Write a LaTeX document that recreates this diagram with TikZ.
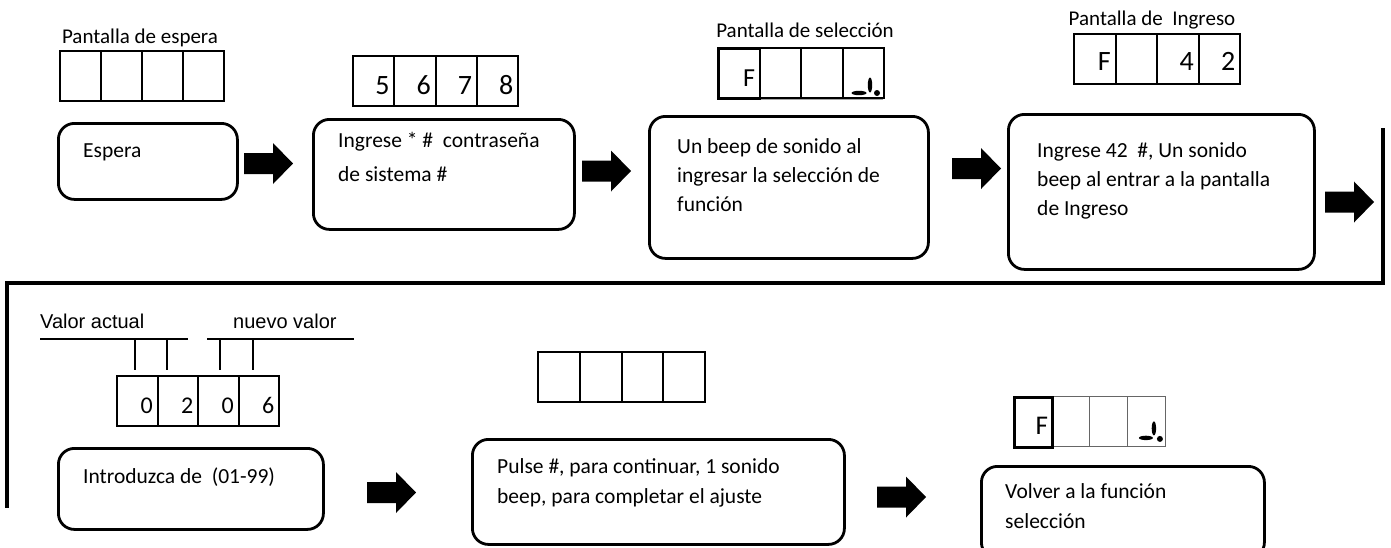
\documentclass[tikz,border=0pt]{standalone}
\usepackage{fontspec}
\setmainfont{Carlito}
\newfontfamily\arialf{Liberation Sans}
\newcommand\lcd[7]{% name, x, y, width, text, font size, raise
  \node[cellbox, minimum width=#4pt] (#1) at (#2,#3) {};
  \node[digit, font=\fontsize{#6}{#6}\selectfont] (#1-t) at ([xshift=-5.5pt,yshift=#7pt]#1.south east) {#5};}
\newcommand\blockarr[3]{% name, left x, centre y
  \coordinate (#1) at (#2,#3);
  \fill (#1) ++(0,-10.5) -- ++(29,0) -- ++(0,-10) -- ++(20,20.5) -- ++(-20,20.5) -- ++(0,-10) -- ++(-29,0) -- cycle;}
\begin{document}
\begin{tikzpicture}[x=1pt,y=-1pt,
  flowbox/.style={draw, line width=2.8pt, rounded corners=16pt, anchor=north west, inner sep=0pt},
  cellbox/.style={draw, line width=2pt, anchor=north west, inner sep=0pt, minimum height=50pt},
  digit/.style={anchor=base east, inner sep=0pt},
  boxtext/.style={anchor=base west, inner sep=0pt, align=left, font=\fontsize{21.5}{29}\selectfont},
  scrlabel/.style={anchor=base, inner sep=0pt, font=\fontsize{21}{25}\selectfont},
  arlabel/.style={anchor=base west, inner sep=0pt, font=\arialf\fontsize{20}{23}\selectfont},
  tick/.style={line width=1.4pt},
  connector/.style={line width=4pt, line join=miter}
]
\useasboundingbox (0,0) rectangle (1391,547);

% ---------- row 1 ----------
% screen 1
\node[scrlabel] (l1) at (140,43) {Pantalla de espera};
\lcd{s1a}{59}{50}{41}{}{27}{13}
\lcd{s1b}{100}{50}{41}{}{27}{13}
\lcd{s1c}{141}{50}{41}{}{27}{13}
\lcd{s1d}{182}{50}{41}{}{27}{13}
\node[flowbox, minimum width=179pt, minimum height=76pt] (b1) at (57,122) {};
\node[boxtext] (t1) at (83,157) {Espera};
\blockarr{a1}{244}{163.5}

% screen 2
\lcd{s2a}{352}{55}{41.25}{5}{28}{12.5}
\lcd{s2b}{393.25}{55}{41.25}{6}{28}{12.5}
\lcd{s2c}{434.5}{55}{41.25}{7}{28}{12.5}
\lcd{s2d}{475.75}{55}{41.25}{8}{28}{12.5}
\node[flowbox, minimum width=261pt, minimum height=110pt] (b2) at (312,118) {};
\node[boxtext, font=\fontsize{21.5}{34}\selectfont] (t2) at (338,181) {Ingrese * \#\ \ contraseña\\de sistema \#};
\blockarr{a2}{582}{171}

% screen 3
\node[scrlabel] (l3) at (805,37) {Pantalla de selección};
\draw[gray!70, line width=1pt] (717,99.5) -- (883,99.5);
\lcd{s3b}{758.5}{47}{41.5}{}{24}{13.5}
\lcd{s3c}{800}{47}{41.5}{}{24}{13.5}
\lcd{s3d}{841.5}{47}{41.5}{}{24}{13.5}
\node[cellbox, line width=2.8pt, minimum width=41.5pt] (s3a) at (717,47) {};
\node[digit, font=\fontsize{26}{26}\selectfont] (s3a-t) at ([xshift=-6pt,yshift=13.5pt]s3a.south east) {F};
\begin{scope}[shift={(s3d.south east)}]
  \fill (-26,-6) ellipse [x radius=7.5pt, y radius=2.2pt];
  \fill (-15,-14) ellipse [x radius=2.2pt, y radius=7.5pt];
  \fill (-8,-6) circle [radius=3pt];
\end{scope}
\node[flowbox, minimum width=279pt, minimum height=142pt] (b3) at (648,115) {};
\node[boxtext] (t3) at (677,211) {Un beep de sonido al\\ingresar la selección de\\función};
\blockarr{a3}{952}{168.5}

% screen 4
\node[scrlabel] (l4) at (1152,25) {Pantalla de\ \ Ingreso};
\lcd{s4a}{1073}{33}{41.5}{F}{28}{15}
\lcd{s4b}{1114.5}{33}{41.5}{}{28}{15}
\lcd{s4c}{1156}{33}{41.5}{4}{28}{15}
\lcd{s4d}{1197.5}{33}{41.5}{2}{28}{15}
\node[flowbox, minimum width=306pt, minimum height=155pt] (b4) at (1007,113) {};
\node[boxtext] (t4) at (1037,215) {Ingrese 42\ \ \#, Un sonido\\beep al entrar a la pantalla\\de Ingreso};
\blockarr{a4}{1325}{202}

% connector between rows
\coordinate (c1) at (1383,128);
\coordinate (c2) at (1383,283);
\coordinate (c3) at (7,283);
\coordinate (c4) at (7,508);
\draw[connector] (c1) -- (c2) -- (c3) -- (c4);

% ---------- row 2 ----------
% screen 5
\node[arlabel] (l5a) at (40,328) {Valor actual};
\node[arlabel] (l5b) at (233,328) {nuevo valor};
\draw[tick] (40,339) -- (188,339);
\draw[tick] (207,339) -- (354,339);
\lcd{s5a}{116}{375}{40.5}{0}{24}{14}
\lcd{s5b}{156.5}{375}{40.5}{2}{24}{14}
\lcd{s5c}{197}{375}{40.5}{0}{24}{14}
\lcd{s5d}{237.5}{375}{40.5}{6}{24}{14}
\draw[tick] (135,339) -- (135,370);
\draw[tick] (167,339) -- (167,370);
\draw[tick] (220,339) -- (220,370);
\draw[tick] (253,339) -- (253,370);
\node[flowbox, minimum width=265pt, minimum height=81pt] (b5) at (57,447) {};
\node[boxtext] (t5) at (83,483) {Introduzca de\ \ (01-99)};
\blockarr{a5}{367}{492.5}

% screen 6
\lcd{s6a}{537}{351}{41.75}{}{27}{13}
\lcd{s6b}{578.75}{351}{41.75}{}{27}{13}
\lcd{s6c}{620.5}{351}{41.75}{}{27}{13}
\lcd{s6d}{662.25}{351}{41.75}{}{27}{13}
\node[flowbox, minimum width=372pt, minimum height=105pt] (b6) at (471,438) {};
\node[boxtext, font=\fontsize{21.5}{30}\selectfont] (t6) at (497,503) {Pulse \#, para continuar, 1 sonido\\beep, para completar el ajuste};
\blockarr{a6}{877}{497}

% screen 7
\node[draw=gray!80!black, line width=0.9pt, anchor=north west, inner sep=0pt, minimum width=38pt, minimum height=50pt] (s7b) at (1051,396) {};
\node[draw=gray!80!black, line width=0.9pt, anchor=north west, inner sep=0pt, minimum width=38pt, minimum height=50pt] (s7c) at (1089,396) {};
\node[draw=gray!80!black, line width=0.9pt, anchor=north west, inner sep=0pt, minimum width=38pt, minimum height=50pt] (s7d) at (1127,396) {};
\node[cellbox, line width=2.6pt, minimum width=38pt] (s7a) at (1013,396) {};
\node[digit, font=\fontsize{27}{27}\selectfont] (s7a-t) at ([xshift=-5.5pt,yshift=14pt]s7a.south east) {F};
\begin{scope}[shift={(s7d.south east)}]
  \fill (-20,-9) ellipse [x radius=7pt, y radius=2.2pt];
  \fill (-12,-18.5) ellipse [x radius=2.2pt, y radius=7pt];
  \fill (-6,-8) circle [radius=3pt];
\end{scope}
\node[flowbox, minimum width=283pt, minimum height=92pt] (b7) at (980,465) {};
\node[boxtext, font=\fontsize{21.5}{30}\selectfont] (t7) at (1005,528) {Volver a la función\\selección};
\end{tikzpicture}
\end{document}
